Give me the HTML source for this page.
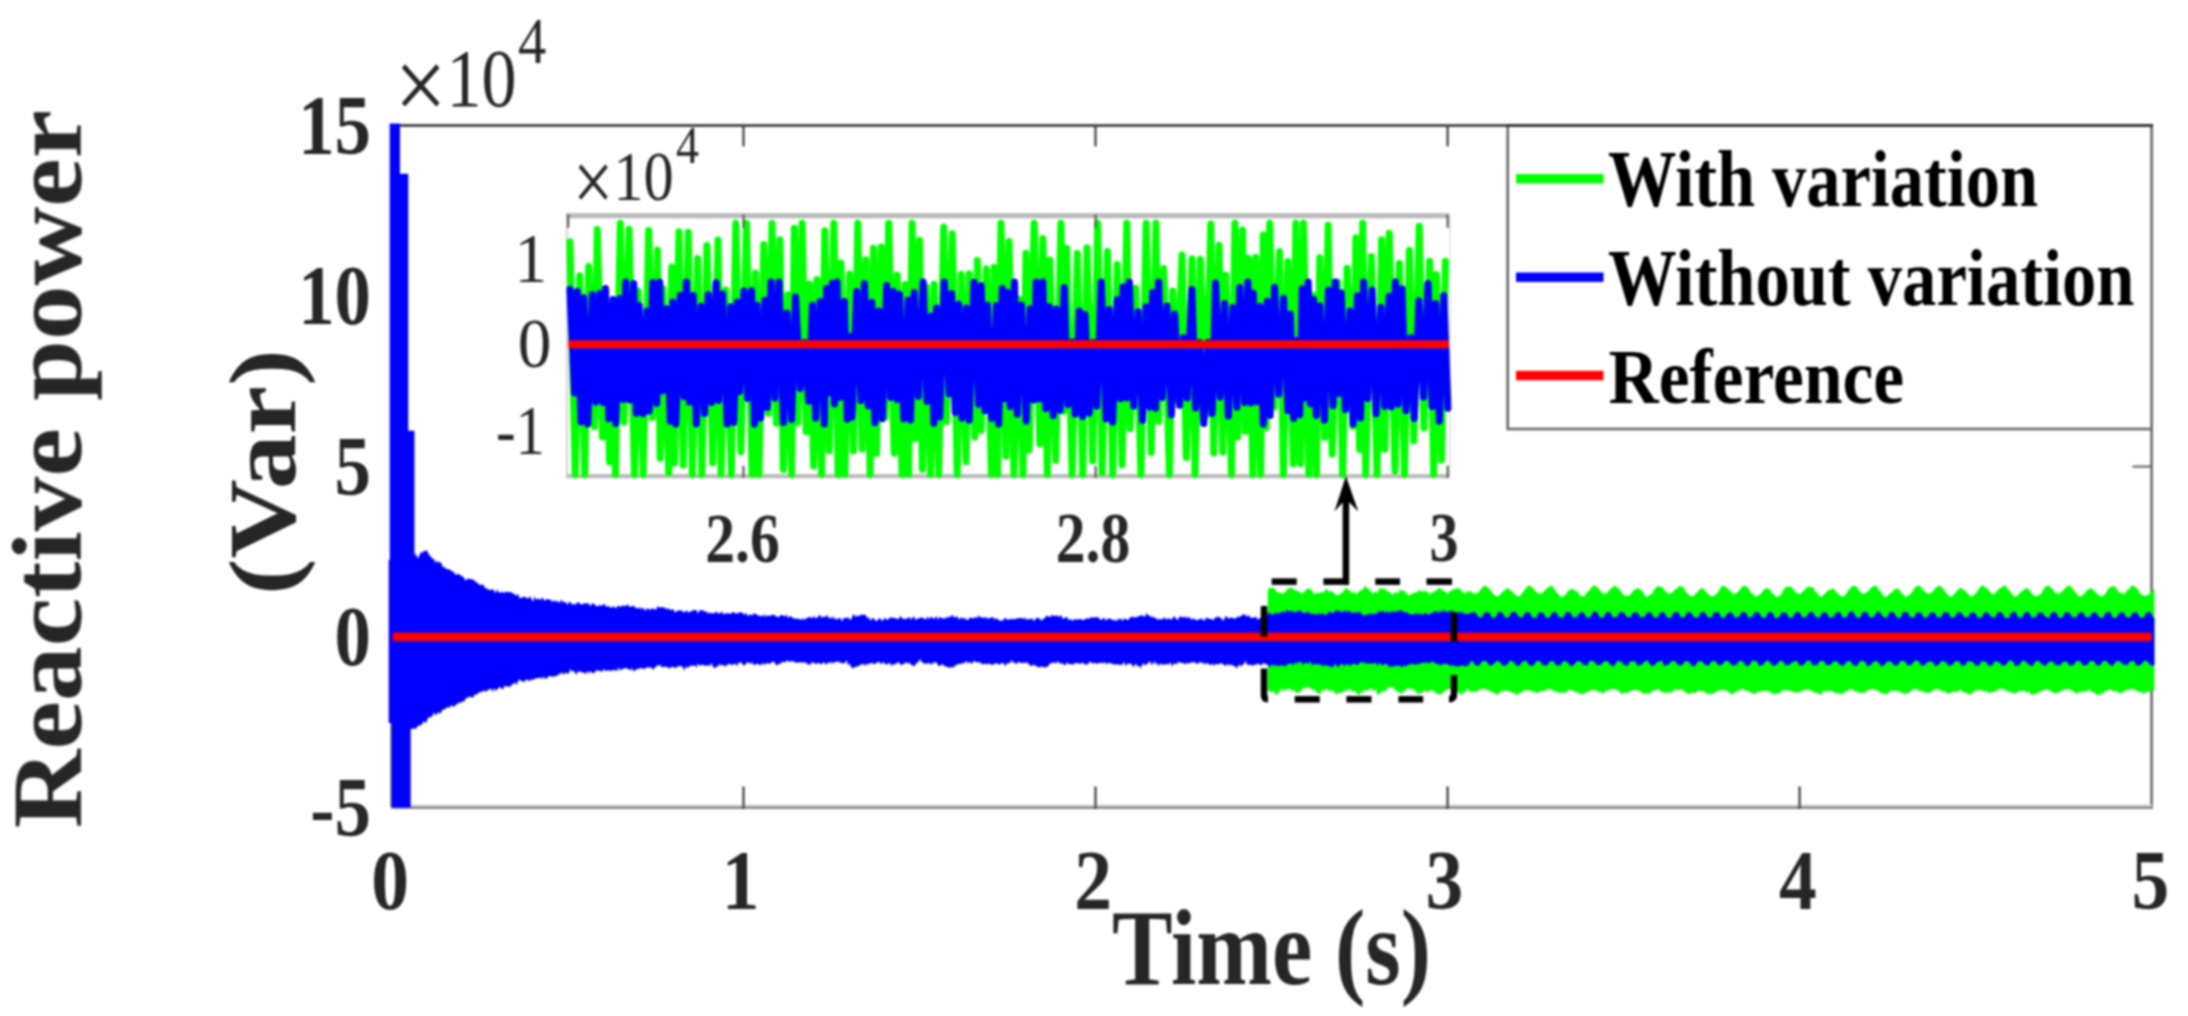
<!DOCTYPE html>
<html><head><meta charset="utf-8"><title>Reactive power</title><style>html,body{margin:0;padding:0;background:#fff}svg{display:block}</style></head><body>
<svg width="2188" height="1016" viewBox="0 0 2188 1016" font-family="'Liberation Serif', serif">
<rect width="2188" height="1016" fill="#fff"/>
<defs><filter id="soft" x="0" y="0" width="100%" height="100%" filterUnits="userSpaceOnUse" color-interpolation-filters="sRGB"><feGaussianBlur stdDeviation="1.0"/></filter></defs>
<g filter="url(#soft)">
<rect width="2188" height="1016" fill="#fff"/>
<g fill="none" stroke-width="2.6">
<line x1="391.7" y1="125.5" x2="2153.1000000000004" y2="125.5" stroke="#2a2a2a"/>
<line x1="2151.6" y1="125.5" x2="2151.6" y2="808.8" stroke="#666"/>
<line x1="391.7" y1="805.2" x2="2151.6" y2="805.2" stroke="#e4e4e4" stroke-width="2.4"/>
<line x1="391.7" y1="807.6" x2="2152.9" y2="807.6" stroke="#8a8a8a"/>
<line x1="391.7" y1="125.5" x2="391.7" y2="807.6" stroke="#666"/>
</g>
<g stroke="#444" stroke-width="2.3" stroke-linecap="round">
<line x1="743.5" y1="808" x2="743.5" y2="787.5"/>
<line x1="743.5" y1="126" x2="743.5" y2="145.5"/>
<line x1="1095.5" y1="808" x2="1095.5" y2="787.5"/>
<line x1="1095.5" y1="126" x2="1095.5" y2="145.5"/>
<line x1="1447.6" y1="808" x2="1447.6" y2="787.5"/>
<line x1="1447.6" y1="126" x2="1447.6" y2="145.5"/>
<line x1="1799.6" y1="808" x2="1799.6" y2="787.5"/>
<line x1="2151.6" y1="466.6" x2="2133.2" y2="466.6" stroke="#6c6c6c" stroke-width="2.1"/>
</g>
<polygon points="1267.8,590.5 1269.3,587.3 1270.8,588.4 1272.3,587.4 1273.8,588.1 1275.3,589.8 1276.8,591.4 1278.3,592.8 1279.8,591.9 1281.3,593.7 1282.8,593.6 1284.3,592.6 1285.8,591.7 1287.3,588.8 1288.8,588.0 1290.3,588.8 1291.8,586.7 1293.3,589.3 1294.8,589.7 1296.3,591.1 1297.8,590.6 1299.3,592.1 1300.8,592.9 1302.3,593.3 1303.8,592.4 1305.3,590.2 1306.8,589.2 1308.3,588.0 1309.8,589.6 1311.3,589.6 1312.8,591.7 1314.3,594.3 1315.8,593.5 1317.3,592.6 1318.8,593.4 1320.3,592.2 1321.8,591.6 1323.3,593.1 1324.8,590.9 1326.3,588.3 1327.8,590.5 1329.3,591.7 1330.8,590.8 1332.3,591.6 1333.8,593.1 1335.3,594.5 1336.8,595.0 1338.3,595.2 1339.8,594.2 1341.3,592.9 1342.8,591.9 1344.3,590.1 1345.8,587.3 1347.3,589.0 1348.8,590.2 1350.3,590.4 1351.8,592.9 1353.3,592.3 1354.8,592.1 1356.3,594.4 1357.8,592.7 1359.3,591.0 1360.8,590.5 1362.3,589.6 1363.8,588.3 1365.3,585.2 1366.8,587.8 1368.3,589.1 1369.8,589.8 1371.3,592.1 1372.8,593.9 1374.3,592.1 1375.8,590.9 1377.3,593.4 1378.8,589.6 1380.3,587.7 1381.8,588.7 1383.3,588.9 1384.8,588.2 1386.3,590.9 1387.8,590.8 1389.3,591.6 1390.8,593.7 1392.3,594.7 1393.8,592.9 1395.3,593.2 1396.8,591.6 1398.3,593.8 1399.8,589.1 1401.3,591.2 1402.8,589.9 1404.3,590.7 1405.8,592.8 1407.3,594.2 1408.8,595.5 1410.3,594.9 1411.8,593.7 1413.3,593.0 1414.8,593.0 1416.3,591.8 1417.8,591.7 1419.3,590.0 1420.8,590.7 1422.3,591.8 1423.8,591.2 1425.3,590.5 1426.8,591.8 1428.3,592.0 1429.8,595.3 1431.3,591.9 1432.8,593.1 1434.3,591.0 1435.8,591.1 1437.3,589.5 1438.8,588.1 1440.3,588.3 1441.8,589.5 1443.3,590.8 1444.8,591.1 1446.3,592.4 1447.8,594.4 1449.3,590.4 1450.8,591.6 1452.3,589.2 1453.8,589.2 1455.3,589.1 1456.8,587.9 1458.3,589.1 1459.8,587.4 1461.3,591.6 1462.8,591.0 1464.3,593.4 1465.8,593.4 1467.3,590.3 1468.8,591.7 1470.3,591.2 1471.8,592.1 1473.3,593.2 1474.8,593.8 1476.3,593.2 1477.8,593.2 1479.3,590.9 1480.8,589.3 1482.3,587.3 1483.8,586.2 1485.3,585.3 1486.8,586.9 1488.3,587.3 1489.8,589.6 1491.3,591.2 1492.8,593.0 1494.3,594.9 1495.8,595.9 1497.3,596.5 1498.8,595.7 1500.3,594.6 1501.8,592.3 1503.3,590.9 1504.8,590.6 1506.3,588.4 1507.8,588.0 1509.3,589.2 1510.8,591.0 1512.3,591.2 1513.8,593.6 1515.3,594.9 1516.8,595.4 1518.3,596.8 1519.8,595.8 1521.3,594.5 1522.8,592.1 1524.3,590.6 1525.8,588.1 1527.3,586.7 1528.8,585.5 1530.3,585.4 1531.8,587.6 1533.3,588.1 1534.8,590.2 1536.3,591.8 1537.8,592.9 1539.3,593.6 1540.8,594.1 1542.3,592.8 1543.8,591.4 1545.3,589.7 1546.8,588.6 1548.3,587.0 1549.8,586.2 1551.3,585.8 1552.8,586.4 1554.3,589.2 1555.8,591.3 1557.3,592.8 1558.8,595.0 1560.3,596.4 1561.8,596.9 1563.3,596.6 1564.8,594.8 1566.3,594.1 1567.8,591.0 1569.3,590.4 1570.8,589.1 1572.3,588.9 1573.8,589.8 1575.3,590.7 1576.8,591.0 1578.3,592.5 1579.8,595.4 1581.3,595.6 1582.8,596.5 1584.3,596.4 1585.8,593.9 1587.3,591.8 1588.8,590.9 1590.3,588.7 1591.8,586.9 1593.3,586.1 1594.8,585.5 1596.3,585.9 1597.8,587.9 1599.3,589.2 1600.8,590.7 1602.3,593.2 1603.8,593.7 1605.3,594.0 1606.8,592.6 1608.3,591.5 1609.8,589.6 1611.3,587.9 1612.8,587.0 1614.3,585.7 1615.8,586.2 1617.3,587.0 1618.8,589.3 1620.3,589.6 1621.8,592.9 1623.3,594.4 1624.8,595.8 1626.3,595.7 1627.8,596.0 1629.3,595.6 1630.8,593.7 1632.3,592.0 1633.8,590.1 1635.3,589.6 1636.8,588.5 1638.3,587.7 1639.8,589.4 1641.3,590.3 1642.8,591.4 1644.3,594.4 1645.8,596.6 1647.3,596.5 1648.8,595.6 1650.3,594.6 1651.8,593.9 1653.3,591.3 1654.8,589.1 1656.3,587.3 1657.8,586.3 1659.3,586.3 1660.8,586.7 1662.3,587.8 1663.8,588.8 1665.3,591.4 1666.8,592.3 1668.3,594.2 1669.8,593.2 1671.3,593.3 1672.8,592.1 1674.3,589.8 1675.8,589.5 1677.3,587.9 1678.8,585.9 1680.3,586.3 1681.8,586.8 1683.3,586.7 1684.8,590.0 1686.3,592.0 1687.8,594.1 1689.3,595.1 1690.8,596.3 1692.3,596.3 1693.8,596.1 1695.3,594.2 1696.8,592.3 1698.3,591.4 1699.8,589.0 1701.3,588.4 1702.8,587.7 1704.3,590.3 1705.8,591.4 1707.3,593.1 1708.8,594.7 1710.3,595.8 1711.8,596.5 1713.3,596.2 1714.8,595.2 1716.3,593.7 1717.8,592.4 1719.3,589.8 1720.8,587.6 1722.3,586.1 1723.8,585.6 1725.3,587.1 1726.8,587.7 1728.3,589.0 1729.8,590.6 1731.3,591.8 1732.8,593.5 1734.3,594.3 1735.8,593.3 1737.3,592.3 1738.8,590.7 1740.3,589.1 1741.8,586.6 1743.3,586.2 1744.8,585.5 1746.3,586.8 1747.8,587.3 1749.3,589.8 1750.8,592.4 1752.3,593.5 1753.8,595.0 1755.3,596.4 1756.8,596.4 1758.3,595.2 1759.8,594.6 1761.3,593.7 1762.8,590.8 1764.3,589.4 1765.8,588.1 1767.3,588.7 1768.8,588.6 1770.3,590.0 1771.8,593.0 1773.3,593.6 1774.8,596.1 1776.3,597.1 1777.8,596.5 1779.3,595.9 1780.8,595.0 1782.3,592.0 1783.8,589.6 1785.3,587.3 1786.8,586.6 1788.3,586.7 1789.8,586.6 1791.3,586.7 1792.8,588.2 1794.3,590.2 1795.8,592.3 1797.3,593.2 1798.8,594.0 1800.3,593.8 1801.8,592.5 1803.3,591.1 1804.8,589.5 1806.3,587.7 1807.8,586.7 1809.3,586.9 1810.8,586.5 1812.3,587.4 1813.8,588.3 1815.3,591.4 1816.8,592.3 1818.3,594.4 1819.8,596.6 1821.3,596.8 1822.8,595.9 1824.3,593.8 1825.8,592.8 1827.3,590.9 1828.8,590.0 1830.3,589.9 1831.8,588.6 1833.3,588.7 1834.8,589.7 1836.3,591.9 1837.8,593.6 1839.3,594.7 1840.8,596.3 1842.3,595.9 1843.8,596.4 1845.3,595.0 1846.8,593.0 1848.3,590.1 1849.8,588.6 1851.3,586.7 1852.8,585.8 1854.3,585.9 1855.8,586.2 1857.3,587.6 1858.8,590.5 1860.3,591.7 1861.8,593.2 1863.3,594.3 1864.8,592.9 1866.3,592.5 1867.8,591.6 1869.3,589.9 1870.8,587.8 1872.3,587.2 1873.8,586.1 1875.3,585.5 1876.8,586.6 1878.3,589.1 1879.8,591.0 1881.3,592.0 1882.8,595.4 1884.3,596.3 1885.8,597.1 1887.3,595.9 1888.8,594.8 1890.3,592.8 1891.8,592.9 1893.3,589.9 1894.8,589.7 1896.3,588.2 1897.8,589.0 1899.3,589.2 1900.8,591.4 1902.3,593.9 1903.8,594.4 1905.3,596.6 1906.8,596.6 1908.3,595.5 1909.8,594.5 1911.3,592.7 1912.8,590.7 1914.3,588.4 1915.8,586.6 1917.3,586.0 1918.8,585.5 1920.3,586.0 1921.8,588.0 1923.3,590.2 1924.8,590.7 1926.3,592.9 1927.8,593.4 1929.3,593.3 1930.8,593.6 1932.3,591.5 1933.8,590.8 1935.3,587.9 1936.8,587.1 1938.3,585.9 1939.8,585.6 1941.3,587.1 1942.8,588.3 1944.3,590.6 1945.8,592.5 1947.3,593.9 1948.8,595.8 1950.3,596.5 1951.8,596.7 1953.3,594.8 1954.8,593.7 1956.3,591.1 1957.8,590.6 1959.3,588.5 1960.8,587.6 1962.3,588.7 1963.8,590.3 1965.3,590.5 1966.8,592.5 1968.3,594.3 1969.8,595.4 1971.3,596.7 1972.8,595.8 1974.3,594.7 1975.8,593.6 1977.3,590.8 1978.8,589.3 1980.3,586.9 1981.8,585.6 1983.3,585.0 1984.8,587.4 1986.3,587.5 1987.8,589.5 1989.3,591.1 1990.8,592.7 1992.3,593.7 1993.8,594.8 1995.3,592.8 1996.8,591.3 1998.3,589.9 1999.8,588.0 2001.3,587.5 2002.8,586.6 2004.3,585.5 2005.8,585.9 2007.3,587.8 2008.8,590.6 2010.3,590.7 2011.8,594.3 2013.3,595.1 2014.8,596.9 2016.3,595.8 2017.8,595.4 2019.3,593.3 2020.8,591.8 2022.3,591.3 2023.8,589.7 2025.3,588.4 2026.8,588.2 2028.3,588.5 2029.8,590.7 2031.3,592.7 2032.8,594.4 2034.3,595.7 2035.8,595.9 2037.3,596.3 2038.8,595.3 2040.3,594.3 2041.8,592.6 2043.3,589.4 2044.8,587.3 2046.3,586.4 2047.8,585.6 2049.3,585.9 2050.8,587.4 2052.3,588.5 2053.8,591.1 2055.3,592.3 2056.8,593.6 2058.3,593.8 2059.8,593.1 2061.3,591.9 2062.8,590.7 2064.3,588.7 2065.8,587.5 2067.3,586.3 2068.8,585.2 2070.3,586.4 2071.8,587.0 2073.3,589.2 2074.8,591.5 2076.3,592.7 2077.8,595.4 2079.3,596.4 2080.8,596.3 2082.3,595.5 2083.8,594.2 2085.3,592.2 2086.8,590.8 2088.3,589.2 2089.8,588.7 2091.3,588.0 2092.8,589.4 2094.3,590.7 2095.8,592.2 2097.3,593.8 2098.8,595.8 2100.3,595.5 2101.8,596.6 2103.3,595.7 2104.8,594.2 2106.3,592.3 2107.8,589.6 2109.3,587.8 2110.8,586.9 2112.3,586.2 2113.8,586.3 2115.3,586.4 2116.8,588.9 2118.3,591.0 2119.8,592.6 2121.3,593.5 2122.8,593.1 2124.3,594.1 2125.8,592.6 2127.3,589.9 2128.8,589.6 2130.3,587.0 2131.8,585.8 2133.3,585.6 2134.8,586.9 2136.3,587.2 2137.8,589.2 2139.3,592.1 2140.8,594.1 2142.3,595.0 2143.8,596.0 2145.3,595.8 2146.8,595.6 2148.3,594.9 2149.8,593.2 2151.3,591.3 2152.8,590.2 2154.3,588.4 2154.3,690.6 2152.8,690.4 2151.3,690.1 2149.8,690.9 2148.3,692.0 2146.8,692.3 2145.3,691.5 2143.8,694.5 2142.3,692.5 2140.8,691.7 2139.3,692.2 2137.8,691.1 2136.3,691.0 2134.8,689.9 2133.3,689.1 2131.8,688.4 2130.3,689.2 2128.8,690.0 2127.3,689.7 2125.8,690.0 2124.3,691.3 2122.8,692.1 2121.3,693.4 2119.8,693.0 2118.3,692.2 2116.8,691.7 2115.3,690.5 2113.8,692.1 2112.3,690.1 2110.8,689.8 2109.3,689.3 2107.8,690.5 2106.3,690.4 2104.8,691.6 2103.3,693.3 2101.8,693.8 2100.3,694.1 2098.8,695.0 2097.3,695.6 2095.8,694.0 2094.3,692.6 2092.8,692.0 2091.3,692.3 2089.8,690.1 2088.3,689.5 2086.8,691.1 2085.3,691.8 2083.8,691.7 2082.3,691.0 2080.8,692.4 2079.3,691.7 2077.8,692.8 2076.3,693.9 2074.8,692.0 2073.3,691.8 2071.8,690.3 2070.3,689.7 2068.8,688.9 2067.3,689.1 2065.8,690.1 2064.3,688.8 2062.8,690.7 2061.3,690.7 2059.8,691.6 2058.3,692.4 2056.8,692.9 2055.3,693.1 2053.8,692.7 2052.3,692.6 2050.8,691.1 2049.3,689.9 2047.8,690.0 2046.3,689.0 2044.8,689.6 2043.3,690.0 2041.8,691.5 2040.3,691.5 2038.8,692.6 2037.3,693.1 2035.8,693.8 2034.3,694.3 2032.8,694.5 2031.3,695.2 2029.8,692.9 2028.3,690.9 2026.8,692.8 2025.3,692.1 2023.8,690.0 2022.3,690.8 2020.8,691.5 2019.3,691.1 2017.8,691.6 2016.3,693.0 2014.8,693.4 2013.3,692.9 2011.8,693.2 2010.3,691.1 2008.8,692.7 2007.3,690.8 2005.8,690.4 2004.3,689.6 2002.8,689.0 2001.3,688.9 1999.8,688.7 1998.3,688.4 1996.8,691.8 1995.3,690.5 1993.8,692.1 1992.3,692.0 1990.8,692.2 1989.3,693.3 1987.8,692.6 1986.3,690.6 1984.8,691.5 1983.3,691.5 1981.8,690.2 1980.3,689.4 1978.8,690.7 1977.3,689.3 1975.8,691.2 1974.3,691.5 1972.8,692.5 1971.3,693.6 1969.8,694.7 1968.3,694.6 1966.8,693.1 1965.3,692.3 1963.8,692.8 1962.3,691.1 1960.8,690.2 1959.3,689.7 1957.8,691.3 1956.3,692.6 1954.8,691.5 1953.3,691.1 1951.8,692.6 1950.3,692.7 1948.8,693.1 1947.3,693.9 1945.8,692.6 1944.3,690.6 1942.8,692.4 1941.3,690.3 1939.8,690.2 1938.3,689.0 1936.8,689.5 1935.3,688.7 1933.8,690.0 1932.3,690.8 1930.8,692.7 1929.3,692.5 1927.8,692.5 1926.3,692.5 1924.8,692.8 1923.3,691.2 1921.8,692.0 1920.3,690.1 1918.8,691.4 1917.3,689.2 1915.8,688.4 1914.3,689.4 1912.8,689.5 1911.3,690.5 1909.8,692.6 1908.3,693.0 1906.8,693.3 1905.3,693.6 1903.8,694.3 1902.3,692.1 1900.8,692.9 1899.3,691.0 1897.8,691.3 1896.3,690.9 1894.8,690.6 1893.3,690.8 1891.8,690.5 1890.3,690.8 1888.8,692.6 1887.3,693.9 1885.8,693.4 1884.3,694.8 1882.8,693.0 1881.3,693.2 1879.8,692.4 1878.3,690.8 1876.8,690.8 1875.3,689.5 1873.8,690.0 1872.3,688.5 1870.8,689.3 1869.3,689.7 1867.8,690.3 1866.3,691.0 1864.8,692.7 1863.3,692.9 1861.8,692.7 1860.3,692.6 1858.8,693.0 1857.3,691.5 1855.8,691.7 1854.3,690.7 1852.8,689.9 1851.3,688.7 1849.8,689.4 1848.3,689.9 1846.8,691.6 1845.3,691.6 1843.8,692.9 1842.3,694.4 1840.8,693.3 1839.3,694.5 1837.8,692.2 1836.3,693.9 1834.8,692.3 1833.3,692.1 1831.8,691.3 1830.3,690.5 1828.8,691.0 1827.3,691.3 1825.8,691.7 1824.3,691.2 1822.8,691.1 1821.3,694.2 1819.8,694.7 1818.3,693.1 1816.8,693.6 1815.3,691.8 1813.8,693.1 1812.3,691.1 1810.8,690.7 1809.3,689.9 1807.8,689.2 1806.3,690.0 1804.8,689.4 1803.3,689.9 1801.8,691.1 1800.3,691.9 1798.8,692.1 1797.3,692.3 1795.8,692.6 1794.3,692.6 1792.8,691.3 1791.3,691.6 1789.8,690.7 1788.3,689.7 1786.8,690.6 1785.3,690.6 1783.8,690.2 1782.3,690.3 1780.8,692.0 1779.3,693.8 1777.8,692.8 1776.3,693.6 1774.8,694.9 1773.3,692.9 1771.8,694.1 1770.3,692.4 1768.8,691.3 1767.3,690.8 1765.8,691.4 1764.3,690.5 1762.8,690.7 1761.3,691.6 1759.8,692.3 1758.3,690.9 1756.8,692.6 1755.3,693.7 1753.8,693.4 1752.3,693.6 1750.8,692.7 1749.3,691.2 1747.8,691.0 1746.3,691.0 1744.8,689.4 1743.3,689.8 1741.8,688.2 1740.3,690.6 1738.8,690.3 1737.3,691.0 1735.8,692.2 1734.3,692.2 1732.8,694.1 1731.3,694.3 1729.8,693.2 1728.3,691.1 1726.8,691.4 1725.3,689.8 1723.8,690.5 1722.3,689.7 1720.8,689.2 1719.3,690.9 1717.8,691.0 1716.3,691.1 1714.8,692.6 1713.3,693.5 1711.8,693.8 1710.3,694.3 1708.8,693.6 1707.3,693.9 1705.8,693.0 1704.3,691.9 1702.8,690.6 1701.3,692.0 1699.8,690.6 1698.3,690.8 1696.8,691.5 1695.3,693.0 1693.8,692.9 1692.3,692.1 1690.8,693.8 1689.3,693.6 1687.8,694.1 1686.3,692.7 1684.8,691.9 1683.3,690.8 1681.8,688.9 1680.3,689.2 1678.8,690.0 1677.3,689.4 1675.8,689.4 1674.3,689.7 1672.8,691.3 1671.3,693.3 1669.8,692.1 1668.3,692.2 1666.8,693.4 1665.3,692.2 1663.8,692.8 1662.3,691.5 1660.8,691.7 1659.3,689.6 1657.8,689.0 1656.3,689.5 1654.8,690.7 1653.3,690.2 1651.8,691.6 1650.3,692.9 1648.8,693.9 1647.3,693.6 1645.8,692.9 1644.3,693.9 1642.8,693.6 1641.3,692.6 1639.8,691.1 1638.3,689.9 1636.8,690.4 1635.3,689.8 1633.8,689.8 1632.3,690.8 1630.8,691.1 1629.3,691.3 1627.8,693.3 1626.3,692.6 1624.8,693.1 1623.3,692.5 1621.8,694.6 1620.3,692.7 1618.8,691.1 1617.3,689.8 1615.8,690.0 1614.3,688.7 1612.8,689.2 1611.3,688.9 1609.8,689.8 1608.3,690.4 1606.8,690.2 1605.3,691.3 1603.8,692.6 1602.3,693.9 1600.8,691.6 1599.3,692.3 1597.8,691.3 1596.3,690.7 1594.8,689.2 1593.3,690.2 1591.8,690.1 1590.3,690.4 1588.8,691.6 1587.3,691.5 1585.8,692.8 1584.3,693.3 1582.8,694.0 1581.3,694.0 1579.8,694.5 1578.3,692.3 1576.8,692.6 1575.3,692.5 1573.8,690.6 1572.3,690.2 1570.8,690.0 1569.3,689.4 1567.8,690.6 1566.3,692.4 1564.8,692.2 1563.3,692.9 1561.8,692.7 1560.3,692.3 1558.8,693.0 1557.3,691.4 1555.8,691.6 1554.3,691.7 1552.8,690.0 1551.3,689.5 1549.8,689.8 1548.3,688.0 1546.8,690.3 1545.3,690.2 1543.8,691.0 1542.3,690.9 1540.8,691.5 1539.3,691.1 1537.8,693.8 1536.3,692.3 1534.8,692.3 1533.3,691.2 1531.8,692.0 1530.3,690.4 1528.8,690.1 1527.3,690.5 1525.8,689.9 1524.3,689.8 1522.8,691.8 1521.3,692.6 1519.8,692.9 1518.3,693.6 1516.8,695.7 1515.3,693.8 1513.8,693.0 1512.3,693.1 1510.8,692.1 1509.3,691.7 1507.8,690.8 1506.3,690.5 1504.8,690.4 1503.3,691.7 1501.8,690.7 1500.3,692.3 1498.8,693.4 1497.3,694.4 1495.8,694.6 1494.3,693.3 1492.8,691.8 1491.3,691.9 1489.8,691.1 1488.3,690.6 1486.8,689.7 1485.3,689.2 1483.8,689.3 1482.3,688.2 1480.8,689.9 1479.3,688.9 1477.8,691.2 1476.3,691.5 1474.8,691.6 1473.3,692.1 1471.8,691.4 1470.3,692.3 1468.8,690.4 1467.3,687.9 1465.8,692.3 1464.3,691.3 1462.8,693.5 1461.3,695.0 1459.8,694.0 1458.3,691.8 1456.8,691.2 1455.3,689.7 1453.8,690.9 1452.3,689.8 1450.8,688.4 1449.3,689.5 1447.8,688.6 1446.3,690.6 1444.8,690.3 1443.3,692.7 1441.8,693.2 1440.3,694.8 1438.8,694.3 1437.3,693.7 1435.8,693.4 1434.3,691.1 1432.8,691.4 1431.3,689.1 1429.8,690.2 1428.3,692.5 1426.8,692.1 1425.3,690.0 1423.8,691.0 1422.3,692.1 1420.8,693.8 1419.3,692.7 1417.8,694.9 1416.3,692.5 1414.8,689.8 1413.3,689.9 1411.8,687.9 1410.3,689.7 1408.8,688.1 1407.3,688.0 1405.8,690.8 1404.3,690.3 1402.8,692.7 1401.3,694.1 1399.8,692.2 1398.3,692.1 1396.8,690.7 1395.3,691.0 1393.8,688.0 1392.3,686.5 1390.8,688.0 1389.3,686.5 1387.8,687.9 1386.3,690.2 1384.8,691.1 1383.3,692.0 1381.8,690.4 1380.3,694.1 1378.8,693.2 1377.3,695.5 1375.8,689.1 1374.3,690.3 1372.8,690.8 1371.3,688.0 1369.8,689.0 1368.3,689.8 1366.8,690.4 1365.3,690.8 1363.8,689.6 1362.3,694.8 1360.8,690.5 1359.3,695.3 1357.8,694.6 1356.3,693.2 1354.8,690.5 1353.3,691.3 1351.8,691.5 1350.3,689.9 1348.8,687.9 1347.3,690.4 1345.8,690.9 1344.3,690.3 1342.8,692.6 1341.3,693.5 1339.8,692.6 1338.3,692.6 1336.8,694.4 1335.3,693.9 1333.8,691.2 1332.3,690.3 1330.8,690.2 1329.3,691.7 1327.8,689.0 1326.3,689.1 1324.8,690.8 1323.3,689.8 1321.8,689.8 1320.3,694.5 1318.8,693.3 1317.3,693.3 1315.8,691.0 1314.3,690.6 1312.8,689.1 1311.3,689.5 1309.8,687.6 1308.3,686.9 1306.8,687.3 1305.3,688.3 1303.8,687.4 1302.3,688.9 1300.8,691.1 1299.3,692.0 1297.8,693.0 1296.3,692.5 1294.8,691.6 1293.3,689.8 1291.8,691.7 1290.3,688.2 1288.8,689.1 1287.3,689.4 1285.8,688.8 1284.3,691.5 1282.8,690.3 1281.3,688.6 1279.8,691.2 1278.3,692.4 1276.8,694.8 1275.3,694.5 1273.8,691.0 1272.3,692.1 1270.8,691.3 1269.3,691.8 1267.8,689.7" fill="#00ff00"/>
<polygon points="389.7,123.6 400.0,123.6 400.0,173.8 408.3,173.8 408.3,430.7 414.5,430.7 414.5,556.4 416.0,553.0 417.5,558.6 419.0,556.5 420.5,552.3 422.0,552.8 423.5,551.4 425.0,550.8 426.5,550.3 428.0,552.6 429.5,555.5 431.0,556.5 432.5,558.9 434.0,558.8 435.5,562.9 437.0,560.5 438.5,562.9 440.0,561.6 441.5,563.6 443.0,567.9 444.5,566.3 446.0,569.1 447.5,569.2 449.0,568.9 450.5,570.5 452.0,571.1 453.5,571.9 455.0,574.1 456.5,574.8 458.0,574.0 459.5,574.2 461.0,576.1 462.5,576.1 464.0,578.0 465.5,580.6 467.0,579.0 468.5,578.6 470.0,579.2 471.5,579.1 473.0,579.8 474.5,580.5 476.0,582.0 477.5,582.7 479.0,584.9 480.5,584.2 482.0,585.2 483.5,584.6 485.0,588.6 486.5,587.8 488.0,589.9 489.5,589.2 491.0,590.5 492.5,588.8 494.0,590.4 495.5,593.2 497.0,588.9 498.5,592.1 500.0,592.9 501.5,591.5 503.0,592.2 504.5,593.1 506.0,591.0 507.5,592.7 509.0,591.5 510.5,592.2 512.0,592.8 513.5,593.8 515.0,594.7 516.5,595.5 518.0,593.7 519.5,598.3 521.0,597.8 522.5,597.6 524.0,596.6 525.5,597.2 527.0,598.3 528.5,598.3 530.0,595.9 531.5,599.0 533.0,601.8 534.5,596.1 536.0,599.7 537.5,599.1 539.0,598.5 540.5,600.4 542.0,597.3 543.5,599.1 545.0,600.9 546.5,599.0 548.0,599.0 549.5,600.0 551.0,599.6 552.5,602.4 554.0,599.7 555.5,602.3 557.0,600.0 558.5,602.7 560.0,602.1 561.5,599.3 563.0,602.7 564.5,601.6 566.0,602.5 567.5,605.0 569.0,601.8 570.5,601.9 572.0,605.0 573.5,603.3 575.0,605.0 576.5,603.5 578.0,602.0 579.5,603.0 581.0,604.6 582.5,604.3 584.0,603.2 585.5,603.4 587.0,603.4 588.5,603.0 590.0,606.3 591.5,604.2 593.0,603.1 594.5,604.2 596.0,606.0 597.5,606.2 599.0,605.5 600.5,605.0 602.0,606.1 603.5,604.1 605.0,604.6 606.5,607.3 608.0,605.7 609.5,606.7 611.0,607.7 612.5,606.9 614.0,606.1 615.5,608.6 617.0,606.7 618.5,605.4 620.0,606.7 621.5,606.4 623.0,604.9 624.5,606.1 626.0,606.0 627.5,604.0 629.0,606.4 630.5,606.5 632.0,606.6 633.5,605.4 635.0,607.3 636.5,608.0 638.0,608.4 639.5,607.1 641.0,609.5 642.5,607.4 644.0,608.7 645.5,610.7 647.0,608.2 648.5,608.4 650.0,610.3 651.5,608.4 653.0,608.5 654.5,609.0 656.0,610.0 657.5,605.9 659.0,607.5 660.5,607.3 662.0,607.2 663.5,607.6 665.0,607.7 666.5,609.3 668.0,608.1 669.5,609.5 671.0,610.1 672.5,609.0 674.0,610.4 675.5,612.5 677.0,611.1 678.5,610.1 680.0,611.0 681.5,610.1 683.0,611.7 684.5,612.5 686.0,610.4 687.5,611.2 689.0,612.7 690.5,610.7 692.0,611.4 693.5,609.8 695.0,610.0 696.5,610.3 698.0,613.5 699.5,610.3 701.0,610.2 702.5,610.2 704.0,610.8 705.5,611.9 707.0,611.6 708.5,614.0 710.0,612.1 711.5,613.8 713.0,612.7 714.5,613.4 716.0,611.2 717.5,613.0 719.0,613.2 720.5,613.2 722.0,611.0 723.5,614.7 725.0,613.3 726.5,613.2 728.0,613.4 729.5,613.3 731.0,614.0 732.5,611.9 734.0,612.2 735.5,613.6 737.0,613.4 738.5,612.7 740.0,612.5 741.5,612.3 743.0,613.3 744.5,615.0 746.0,612.5 747.5,615.8 749.0,615.3 750.5,614.0 752.0,615.8 753.5,613.4 755.0,613.4 756.5,614.2 758.0,615.5 759.5,615.8 761.0,615.7 762.5,616.6 764.0,614.0 765.5,617.2 767.0,614.9 768.5,615.7 770.0,616.0 771.5,615.0 773.0,614.7 774.5,615.1 776.0,616.2 777.5,616.9 779.0,616.9 780.5,615.0 782.0,615.3 783.5,615.2 785.0,616.9 786.5,614.1 788.0,618.2 789.5,616.3 791.0,616.2 792.5,617.7 794.0,618.8 795.5,618.2 797.0,619.2 798.5,618.2 800.0,619.6 801.5,619.7 803.0,618.1 804.5,619.9 806.0,618.3 807.5,618.1 809.0,616.7 810.5,617.3 812.0,618.5 813.5,615.8 815.0,618.0 816.5,617.5 818.0,617.4 819.5,614.3 821.0,616.8 822.5,617.8 824.0,616.2 825.5,617.3 827.0,614.5 828.5,618.4 830.0,617.0 831.5,619.0 833.0,616.0 834.5,619.2 836.0,618.3 837.5,619.7 839.0,617.7 840.5,618.2 842.0,621.6 843.5,617.9 845.0,618.0 846.5,618.3 848.0,617.1 849.5,619.4 851.0,619.5 852.5,615.9 854.0,613.9 855.5,616.7 857.0,616.1 858.5,615.5 860.0,616.0 861.5,613.9 863.0,615.3 864.5,614.6 866.0,615.2 867.5,618.6 869.0,617.1 870.5,621.0 872.0,618.6 873.5,618.0 875.0,619.9 876.5,621.3 878.0,619.8 879.5,617.8 881.0,619.7 882.5,620.9 884.0,618.6 885.5,618.2 887.0,620.2 888.5,618.9 890.0,617.3 891.5,617.9 893.0,617.3 894.5,618.4 896.0,618.0 897.5,619.2 899.0,618.6 900.5,615.8 902.0,618.2 903.5,618.9 905.0,618.4 906.5,619.3 908.0,617.5 909.5,617.2 911.0,619.7 912.5,617.5 914.0,616.3 915.5,620.3 917.0,618.3 918.5,618.9 920.0,617.6 921.5,617.7 923.0,617.8 924.5,618.7 926.0,619.4 927.5,616.1 929.0,619.6 930.5,617.0 932.0,617.0 933.5,618.9 935.0,617.9 936.5,616.0 938.0,619.9 939.5,616.6 941.0,617.9 942.5,617.8 944.0,619.2 945.5,616.9 947.0,618.4 948.5,616.0 950.0,617.8 951.5,615.2 953.0,615.4 954.5,618.1 956.0,616.4 957.5,616.6 959.0,619.8 960.5,618.1 962.0,617.2 963.5,619.4 965.0,617.3 966.5,620.1 968.0,620.1 969.5,617.8 971.0,617.6 972.5,618.4 974.0,618.0 975.5,616.7 977.0,618.5 978.5,615.3 980.0,617.2 981.5,617.2 983.0,617.5 984.5,618.3 986.0,616.6 987.5,618.9 989.0,618.2 990.5,617.8 992.0,617.2 993.5,617.5 995.0,619.5 996.5,618.1 998.0,619.4 999.5,620.6 1001.0,620.5 1002.5,621.1 1004.0,618.7 1005.5,617.7 1007.0,620.0 1008.5,619.0 1010.0,619.8 1011.5,618.3 1013.0,619.5 1014.5,618.9 1016.0,618.7 1017.5,618.3 1019.0,618.2 1020.5,618.0 1022.0,618.0 1023.5,619.1 1025.0,617.4 1026.5,620.3 1028.0,618.2 1029.5,619.7 1031.0,618.6 1032.5,618.6 1034.0,621.5 1035.5,618.8 1037.0,617.7 1038.5,618.3 1040.0,618.6 1041.5,621.3 1043.0,618.4 1044.5,618.7 1046.0,615.6 1047.5,616.5 1049.0,616.3 1050.5,617.3 1052.0,614.2 1053.5,616.0 1055.0,616.0 1056.5,614.9 1058.0,616.6 1059.5,616.7 1061.0,614.6 1062.5,618.4 1064.0,618.5 1065.5,617.5 1067.0,616.7 1068.5,620.2 1070.0,619.0 1071.5,620.1 1073.0,620.7 1074.5,618.5 1076.0,620.2 1077.5,619.0 1079.0,619.2 1080.5,619.2 1082.0,619.2 1083.5,620.4 1085.0,619.1 1086.5,618.6 1088.0,618.2 1089.5,618.8 1091.0,617.1 1092.5,617.4 1094.0,617.8 1095.5,617.1 1097.0,617.6 1098.5,617.0 1100.0,620.1 1101.5,619.4 1103.0,618.4 1104.5,618.0 1106.0,620.8 1107.5,618.8 1109.0,618.5 1110.5,619.1 1112.0,619.3 1113.5,620.8 1115.0,619.2 1116.5,621.8 1118.0,618.2 1119.5,620.1 1121.0,618.0 1122.5,621.3 1124.0,618.6 1125.5,618.8 1127.0,619.8 1128.5,620.0 1130.0,616.9 1131.5,617.6 1133.0,616.2 1134.5,617.8 1136.0,617.3 1137.5,616.7 1139.0,615.9 1140.5,615.8 1142.0,614.9 1143.5,616.0 1145.0,616.9 1146.5,612.8 1148.0,615.3 1149.5,615.5 1151.0,617.3 1152.5,616.3 1154.0,617.9 1155.5,617.3 1157.0,619.8 1158.5,619.2 1160.0,619.0 1161.5,619.6 1163.0,618.7 1164.5,617.0 1166.0,619.4 1167.5,618.9 1169.0,618.2 1170.5,619.3 1172.0,619.5 1173.5,616.6 1175.0,616.8 1176.5,619.6 1178.0,619.4 1179.5,616.8 1181.0,616.4 1182.5,617.2 1184.0,617.5 1185.5,616.3 1187.0,618.5 1188.5,617.1 1190.0,617.4 1191.5,620.1 1193.0,618.3 1194.5,619.1 1196.0,620.0 1197.5,620.3 1199.0,618.9 1200.5,619.3 1202.0,618.1 1203.5,621.1 1205.0,619.6 1206.5,617.3 1208.0,618.4 1209.5,619.1 1211.0,618.6 1212.5,620.1 1214.0,619.4 1215.5,617.1 1217.0,617.6 1218.5,616.2 1220.0,618.1 1221.5,618.1 1223.0,621.3 1224.5,618.3 1226.0,615.8 1227.5,617.7 1229.0,618.8 1230.5,617.2 1232.0,617.7 1233.5,618.2 1235.0,618.7 1236.5,617.6 1238.0,616.2 1239.5,617.6 1241.0,615.5 1242.5,615.2 1244.0,614.1 1245.5,615.0 1247.0,617.1 1248.5,614.7 1250.0,617.0 1251.5,618.2 1253.0,617.0 1254.5,617.9 1256.0,616.3 1257.5,619.2 1259.0,619.1 1260.5,618.1 1262.0,615.9 1263.5,616.9 1265.0,619.5 1266.5,620.5 1268.0,611.2 1269.5,613.4 1271.0,613.9 1272.5,614.8 1274.0,613.4 1275.5,613.3 1277.0,612.7 1278.5,613.8 1280.0,612.4 1281.5,611.9 1283.0,611.5 1284.5,612.6 1286.0,611.2 1287.5,609.8 1289.0,611.9 1290.5,610.5 1292.0,611.4 1293.5,611.4 1295.0,612.2 1296.5,612.1 1298.0,610.6 1299.5,611.1 1301.0,610.2 1302.5,613.4 1304.0,612.4 1305.5,613.6 1307.0,612.2 1308.5,610.7 1310.0,614.6 1311.5,613.4 1313.0,613.7 1314.5,613.8 1316.0,614.5 1317.5,614.5 1319.0,612.4 1320.5,615.1 1322.0,613.4 1323.5,613.3 1325.0,615.4 1326.5,614.4 1328.0,612.9 1329.5,611.1 1331.0,612.9 1332.5,613.0 1334.0,612.1 1335.5,610.6 1337.0,610.8 1338.5,610.2 1340.0,611.5 1341.5,611.9 1343.0,612.1 1344.5,610.3 1346.0,611.3 1347.5,611.7 1349.0,610.7 1350.5,611.2 1352.0,613.7 1353.5,612.0 1355.0,613.0 1356.5,611.9 1358.0,612.7 1359.5,611.2 1361.0,613.2 1362.5,614.6 1364.0,615.7 1365.5,615.0 1367.0,614.6 1368.5,614.0 1370.0,613.4 1371.5,613.8 1373.0,614.5 1374.5,613.0 1376.0,614.5 1377.5,612.4 1379.0,611.3 1380.5,611.8 1382.0,610.9 1383.5,610.9 1385.0,613.1 1386.5,611.5 1388.0,611.7 1389.5,612.5 1391.0,612.4 1392.5,610.6 1394.0,612.3 1395.5,611.4 1397.0,611.1 1398.5,611.6 1400.0,609.9 1401.5,610.7 1403.0,611.6 1404.5,612.6 1406.0,611.9 1407.5,612.4 1409.0,613.8 1410.5,614.5 1412.0,614.1 1413.5,614.8 1415.0,613.3 1416.5,613.6 1418.0,614.3 1419.5,613.7 1421.0,613.5 1422.5,615.6 1424.0,613.6 1425.5,612.7 1427.0,613.9 1428.5,615.1 1430.0,613.1 1431.5,613.9 1433.0,612.0 1434.5,611.6 1436.0,611.2 1437.5,611.5 1439.0,613.3 1440.5,610.1 1442.0,612.8 1443.5,610.0 1445.0,610.8 1446.5,611.9 1448.0,611.7 1449.5,611.5 1451.0,609.7 1452.5,612.0 1454.0,610.8 1455.5,614.7 1457.0,612.2 1458.5,612.8 1460.0,611.8 1461.5,612.7 1463.0,612.1 1464.5,614.6 1466.0,613.5 1467.5,614.5 1469.0,613.3 1470.5,612.8 1472.0,612.8 1473.5,612.3 1475.0,612.1 1476.5,613.7 1478.0,616.6 1479.5,617.0 1481.0,617.6 1482.5,616.9 1484.0,613.0 1485.5,612.0 1487.0,612.7 1488.5,612.1 1490.0,613.8 1491.5,617.6 1493.0,617.6 1494.5,617.5 1496.0,616.8 1497.5,612.9 1499.0,611.8 1500.5,612.0 1502.0,612.2 1503.5,614.2 1505.0,617.4 1506.5,617.5 1508.0,617.5 1509.5,616.6 1511.0,612.6 1512.5,612.0 1514.0,611.8 1515.5,612.0 1517.0,613.9 1518.5,616.7 1520.0,617.1 1521.5,617.4 1523.0,617.0 1524.5,613.2 1526.0,612.4 1527.5,612.1 1529.0,611.9 1530.5,614.1 1532.0,617.8 1533.5,617.2 1535.0,617.9 1536.5,617.5 1538.0,613.9 1539.5,611.9 1541.0,612.8 1542.5,612.3 1544.0,613.9 1545.5,617.1 1547.0,617.7 1548.5,617.5 1550.0,616.9 1551.5,613.8 1553.0,611.9 1554.5,611.8 1556.0,612.5 1557.5,614.3 1559.0,617.6 1560.5,617.1 1562.0,617.8 1563.5,617.2 1565.0,614.0 1566.5,611.8 1568.0,612.2 1569.5,612.1 1571.0,613.5 1572.5,616.9 1574.0,617.8 1575.5,617.3 1577.0,616.7 1578.5,613.7 1580.0,612.5 1581.5,612.5 1583.0,612.0 1584.5,614.0 1586.0,617.5 1587.5,617.2 1589.0,617.2 1590.5,617.3 1592.0,613.9 1593.5,611.8 1595.0,611.2 1596.5,611.7 1598.0,613.7 1599.5,617.1 1601.0,617.7 1602.5,617.4 1604.0,616.7 1605.5,613.4 1607.0,611.9 1608.5,612.1 1610.0,612.0 1611.5,615.0 1613.0,617.5 1614.5,617.2 1616.0,617.1 1617.5,616.8 1619.0,612.8 1620.5,611.9 1622.0,611.9 1623.5,612.5 1625.0,613.9 1626.5,616.9 1628.0,617.0 1629.5,617.0 1631.0,617.0 1632.5,613.3 1634.0,612.6 1635.5,611.9 1637.0,612.6 1638.5,614.1 1640.0,617.2 1641.5,616.8 1643.0,617.0 1644.5,617.2 1646.0,613.9 1647.5,612.3 1649.0,612.4 1650.5,612.1 1652.0,613.9 1653.5,616.9 1655.0,617.8 1656.5,617.6 1658.0,616.9 1659.5,613.3 1661.0,612.4 1662.5,612.2 1664.0,611.9 1665.5,614.6 1667.0,617.3 1668.5,617.5 1670.0,618.0 1671.5,617.3 1673.0,613.4 1674.5,612.4 1676.0,611.8 1677.5,612.0 1679.0,613.2 1680.5,617.6 1682.0,616.8 1683.5,617.7 1685.0,616.7 1686.5,613.1 1688.0,612.1 1689.5,612.2 1691.0,612.5 1692.5,614.7 1694.0,617.3 1695.5,617.8 1697.0,617.2 1698.5,617.2 1700.0,613.4 1701.5,612.0 1703.0,612.1 1704.5,612.2 1706.0,614.1 1707.5,617.3 1709.0,617.3 1710.5,617.2 1712.0,617.2 1713.5,612.8 1715.0,612.0 1716.5,612.7 1718.0,611.3 1719.5,613.8 1721.0,617.4 1722.5,616.9 1724.0,618.4 1725.5,616.1 1727.0,613.9 1728.5,612.7 1730.0,612.5 1731.5,612.2 1733.0,614.2 1734.5,616.9 1736.0,617.7 1737.5,617.1 1739.0,616.9 1740.5,613.7 1742.0,611.8 1743.5,612.0 1745.0,612.3 1746.5,613.6 1748.0,617.6 1749.5,617.6 1751.0,616.9 1752.5,617.0 1754.0,613.1 1755.5,612.0 1757.0,612.2 1758.5,612.0 1760.0,614.4 1761.5,616.9 1763.0,617.8 1764.5,617.4 1766.0,617.3 1767.5,613.2 1769.0,612.0 1770.5,611.7 1772.0,612.4 1773.5,614.4 1775.0,617.9 1776.5,617.9 1778.0,617.5 1779.5,616.9 1781.0,613.5 1782.5,612.2 1784.0,612.6 1785.5,612.6 1787.0,613.7 1788.5,616.9 1790.0,617.9 1791.5,617.6 1793.0,616.9 1794.5,613.8 1796.0,612.1 1797.5,612.0 1799.0,612.1 1800.5,613.4 1802.0,617.5 1803.5,617.0 1805.0,617.2 1806.5,616.7 1808.0,613.7 1809.5,612.2 1811.0,612.1 1812.5,611.7 1814.0,614.0 1815.5,616.7 1817.0,617.6 1818.5,617.6 1820.0,617.0 1821.5,614.1 1823.0,612.4 1824.5,612.3 1826.0,612.3 1827.5,614.0 1829.0,617.5 1830.5,617.8 1832.0,617.0 1833.5,617.4 1835.0,613.6 1836.5,612.5 1838.0,612.3 1839.5,611.8 1841.0,613.6 1842.5,617.8 1844.0,617.5 1845.5,616.9 1847.0,617.1 1848.5,613.3 1850.0,611.6 1851.5,611.3 1853.0,611.7 1854.5,614.1 1856.0,617.2 1857.5,617.4 1859.0,617.5 1860.5,617.2 1862.0,612.7 1863.5,612.1 1865.0,611.8 1866.5,611.8 1868.0,613.8 1869.5,617.1 1871.0,617.4 1872.5,616.9 1874.0,616.8 1875.5,614.1 1877.0,611.8 1878.5,611.5 1880.0,612.3 1881.5,614.2 1883.0,617.3 1884.5,617.1 1886.0,617.8 1887.5,616.7 1889.0,613.0 1890.5,612.0 1892.0,612.1 1893.5,612.5 1895.0,614.3 1896.5,617.2 1898.0,617.8 1899.5,617.5 1901.0,617.3 1902.5,612.9 1904.0,611.6 1905.5,612.4 1907.0,611.8 1908.5,613.9 1910.0,617.1 1911.5,617.3 1913.0,617.3 1914.5,617.5 1916.0,612.5 1917.5,612.5 1919.0,612.9 1920.5,612.2 1922.0,614.0 1923.5,617.4 1925.0,618.1 1926.5,617.0 1928.0,617.0 1929.5,613.3 1931.0,612.4 1932.5,612.2 1934.0,612.5 1935.5,613.9 1937.0,617.2 1938.5,617.2 1940.0,617.2 1941.5,616.9 1943.0,613.3 1944.5,611.8 1946.0,612.7 1947.5,612.2 1949.0,613.6 1950.5,617.6 1952.0,617.2 1953.5,617.6 1955.0,617.0 1956.5,613.5 1958.0,612.3 1959.5,611.9 1961.0,612.3 1962.5,614.7 1964.0,616.4 1965.5,617.5 1967.0,617.6 1968.5,616.6 1970.0,612.9 1971.5,613.0 1973.0,612.0 1974.5,613.0 1976.0,614.2 1977.5,617.2 1979.0,617.6 1980.5,617.7 1982.0,617.4 1983.5,613.5 1985.0,612.2 1986.5,612.2 1988.0,612.7 1989.5,614.3 1991.0,616.8 1992.5,617.2 1994.0,617.6 1995.5,616.8 1997.0,613.3 1998.5,611.9 2000.0,612.0 2001.5,612.4 2003.0,614.4 2004.5,617.2 2006.0,618.2 2007.5,617.4 2009.0,618.1 2010.5,613.7 2012.0,612.4 2013.5,612.0 2015.0,611.2 2016.5,614.0 2018.0,617.2 2019.5,618.1 2021.0,617.0 2022.5,617.6 2024.0,613.3 2025.5,612.4 2027.0,611.2 2028.5,612.3 2030.0,613.9 2031.5,617.4 2033.0,617.5 2034.5,617.0 2036.0,617.3 2037.5,613.6 2039.0,612.4 2040.5,612.5 2042.0,612.6 2043.5,614.0 2045.0,616.7 2046.5,617.0 2048.0,617.9 2049.5,617.2 2051.0,613.4 2052.5,612.0 2054.0,612.1 2055.5,612.2 2057.0,613.9 2058.5,616.9 2060.0,618.2 2061.5,617.5 2063.0,616.8 2064.5,612.9 2066.0,611.9 2067.5,612.4 2069.0,612.5 2070.5,614.0 2072.0,617.2 2073.5,617.3 2075.0,617.1 2076.5,617.4 2078.0,613.5 2079.5,613.1 2081.0,611.9 2082.5,612.2 2084.0,614.3 2085.5,617.1 2087.0,617.0 2088.5,617.1 2090.0,617.0 2091.5,613.5 2093.0,612.2 2094.5,612.5 2096.0,612.6 2097.5,614.2 2099.0,617.2 2100.5,617.4 2102.0,617.6 2103.5,617.3 2105.0,613.4 2106.5,612.4 2108.0,612.0 2109.5,611.7 2111.0,613.7 2112.5,617.4 2114.0,617.6 2115.5,618.0 2117.0,617.0 2118.5,613.7 2120.0,612.7 2121.5,612.5 2123.0,612.0 2124.5,614.0 2126.0,617.2 2127.5,617.1 2129.0,617.6 2130.5,617.3 2132.0,613.2 2133.5,612.9 2135.0,612.0 2136.5,612.2 2138.0,614.0 2139.5,616.9 2141.0,617.6 2142.5,617.5 2144.0,617.6 2145.5,613.6 2147.0,612.4 2148.5,612.1 2150.0,611.7 2151.5,614.0 2153.0,616.9 2154.5,617.8 2154.5,665.2 2153.0,666.0 2151.5,665.3 2150.0,665.1 2148.5,662.4 2147.0,661.4 2145.5,660.6 2144.0,661.1 2142.5,662.6 2141.0,665.0 2139.5,665.0 2138.0,665.8 2136.5,665.4 2135.0,663.0 2133.5,660.6 2132.0,661.2 2130.5,661.4 2129.0,662.4 2127.5,665.2 2126.0,664.4 2124.5,665.1 2123.0,664.8 2121.5,662.8 2120.0,661.3 2118.5,660.9 2117.0,661.5 2115.5,662.1 2114.0,664.3 2112.5,665.9 2111.0,665.8 2109.5,664.3 2108.0,663.2 2106.5,660.9 2105.0,661.1 2103.5,660.8 2102.0,662.5 2100.5,665.4 2099.0,665.1 2097.5,665.7 2096.0,665.1 2094.5,661.4 2093.0,661.0 2091.5,661.1 2090.0,660.9 2088.5,663.2 2087.0,665.0 2085.5,664.9 2084.0,665.8 2082.5,664.5 2081.0,662.7 2079.5,660.6 2078.0,661.3 2076.5,660.8 2075.0,663.2 2073.5,664.7 2072.0,665.5 2070.5,665.5 2069.0,665.3 2067.5,662.4 2066.0,661.3 2064.5,662.0 2063.0,661.8 2061.5,663.4 2060.0,665.4 2058.5,665.2 2057.0,665.1 2055.5,665.3 2054.0,662.6 2052.5,661.9 2051.0,661.4 2049.5,661.3 2048.0,663.2 2046.5,664.8 2045.0,666.0 2043.5,665.0 2042.0,664.6 2040.5,662.7 2039.0,661.2 2037.5,660.8 2036.0,660.9 2034.5,662.9 2033.0,665.3 2031.5,665.9 2030.0,665.5 2028.5,664.5 2027.0,662.5 2025.5,661.8 2024.0,660.3 2022.5,661.0 2021.0,662.3 2019.5,665.4 2018.0,665.3 2016.5,665.8 2015.0,666.0 2013.5,662.3 2012.0,661.3 2010.5,660.1 2009.0,661.1 2007.5,662.4 2006.0,665.0 2004.5,665.3 2003.0,665.4 2001.5,665.2 2000.0,663.0 1998.5,662.0 1997.0,661.5 1995.5,661.4 1994.0,662.1 1992.5,665.0 1991.0,666.1 1989.5,665.4 1988.0,665.6 1986.5,661.7 1985.0,661.9 1983.5,661.5 1982.0,660.9 1980.5,662.8 1979.0,666.0 1977.5,665.1 1976.0,666.1 1974.5,664.6 1973.0,662.1 1971.5,661.7 1970.0,661.3 1968.5,661.0 1967.0,662.2 1965.5,665.0 1964.0,665.5 1962.5,665.4 1961.0,665.3 1959.5,661.2 1958.0,661.4 1956.5,661.3 1955.0,661.6 1953.5,663.2 1952.0,665.5 1950.5,665.2 1949.0,665.7 1947.5,664.7 1946.0,662.5 1944.5,661.2 1943.0,661.4 1941.5,660.7 1940.0,662.9 1938.5,665.0 1937.0,665.4 1935.5,665.9 1934.0,664.5 1932.5,661.8 1931.0,661.6 1929.5,661.4 1928.0,662.0 1926.5,662.4 1925.0,665.2 1923.5,665.3 1922.0,665.8 1920.5,664.8 1919.0,661.6 1917.5,661.0 1916.0,660.1 1914.5,661.6 1913.0,662.4 1911.5,664.9 1910.0,665.1 1908.5,665.5 1907.0,665.0 1905.5,661.7 1904.0,661.2 1902.5,660.8 1901.0,661.0 1899.5,662.2 1898.0,665.0 1896.5,665.4 1895.0,665.7 1893.5,664.4 1892.0,662.4 1890.5,661.5 1889.0,661.2 1887.5,661.4 1886.0,662.6 1884.5,664.9 1883.0,665.5 1881.5,666.7 1880.0,664.8 1878.5,662.3 1877.0,661.4 1875.5,661.0 1874.0,661.8 1872.5,662.8 1871.0,664.7 1869.5,665.4 1868.0,666.4 1866.5,664.9 1865.0,661.5 1863.5,661.6 1862.0,660.7 1860.5,661.1 1859.0,662.5 1857.5,665.2 1856.0,665.7 1854.5,665.7 1853.0,665.2 1851.5,662.4 1850.0,661.1 1848.5,661.1 1847.0,661.5 1845.5,663.1 1844.0,665.3 1842.5,666.1 1841.0,665.3 1839.5,664.4 1838.0,662.2 1836.5,661.1 1835.0,661.7 1833.5,661.3 1832.0,663.3 1830.5,665.0 1829.0,665.0 1827.5,665.1 1826.0,665.0 1824.5,662.1 1823.0,660.8 1821.5,661.1 1820.0,661.2 1818.5,663.1 1817.0,664.9 1815.5,665.3 1814.0,665.4 1812.5,665.0 1811.0,662.2 1809.5,660.3 1808.0,660.7 1806.5,661.3 1805.0,663.0 1803.5,665.2 1802.0,665.2 1800.5,665.5 1799.0,665.0 1797.5,661.8 1796.0,660.8 1794.5,661.4 1793.0,661.5 1791.5,663.2 1790.0,664.5 1788.5,665.1 1787.0,664.9 1785.5,665.4 1784.0,662.8 1782.5,661.3 1781.0,660.7 1779.5,661.4 1778.0,662.8 1776.5,664.7 1775.0,665.4 1773.5,665.7 1772.0,665.0 1770.5,663.1 1769.0,661.1 1767.5,660.5 1766.0,661.5 1764.5,662.4 1763.0,665.0 1761.5,665.2 1760.0,665.7 1758.5,665.1 1757.0,661.4 1755.5,661.0 1754.0,661.0 1752.5,660.3 1751.0,662.6 1749.5,665.0 1748.0,666.2 1746.5,665.8 1745.0,664.8 1743.5,662.3 1742.0,661.2 1740.5,660.7 1739.0,661.4 1737.5,663.0 1736.0,665.0 1734.5,665.6 1733.0,665.2 1731.5,665.1 1730.0,662.7 1728.5,661.2 1727.0,661.3 1725.5,660.5 1724.0,662.4 1722.5,664.3 1721.0,665.3 1719.5,665.2 1718.0,665.1 1716.5,662.5 1715.0,661.0 1713.5,661.5 1712.0,660.7 1710.5,663.1 1709.0,665.4 1707.5,665.6 1706.0,664.8 1704.5,664.4 1703.0,662.3 1701.5,661.4 1700.0,661.4 1698.5,661.1 1697.0,662.8 1695.5,665.7 1694.0,666.2 1692.5,665.7 1691.0,665.4 1689.5,662.5 1688.0,661.4 1686.5,661.0 1685.0,661.4 1683.5,663.3 1682.0,665.1 1680.5,665.4 1679.0,665.2 1677.5,665.1 1676.0,662.1 1674.5,661.1 1673.0,660.9 1671.5,661.2 1670.0,662.7 1668.5,665.1 1667.0,665.0 1665.5,665.3 1664.0,665.7 1662.5,661.9 1661.0,660.3 1659.5,661.7 1658.0,661.8 1656.5,662.6 1655.0,665.0 1653.5,665.5 1652.0,665.9 1650.5,664.9 1649.0,662.9 1647.5,660.3 1646.0,660.9 1644.5,661.8 1643.0,663.2 1641.5,664.5 1640.0,665.1 1638.5,666.1 1637.0,665.1 1635.5,662.1 1634.0,660.7 1632.5,661.4 1631.0,661.4 1629.5,661.8 1628.0,665.9 1626.5,665.3 1625.0,665.4 1623.5,664.6 1622.0,661.9 1620.5,661.8 1619.0,660.8 1617.5,661.0 1616.0,662.9 1614.5,665.3 1613.0,666.3 1611.5,665.6 1610.0,664.8 1608.5,662.3 1607.0,661.0 1605.5,661.5 1604.0,661.2 1602.5,663.0 1601.0,665.0 1599.5,664.8 1598.0,665.3 1596.5,665.0 1595.0,661.8 1593.5,661.8 1592.0,660.4 1590.5,660.8 1589.0,662.0 1587.5,665.6 1586.0,664.9 1584.5,665.6 1583.0,664.1 1581.5,662.7 1580.0,661.2 1578.5,661.2 1577.0,661.1 1575.5,663.0 1574.0,664.8 1572.5,665.9 1571.0,665.5 1569.5,665.4 1568.0,662.4 1566.5,661.4 1565.0,660.8 1563.5,661.5 1562.0,662.4 1560.5,665.2 1559.0,665.4 1557.5,665.5 1556.0,665.1 1554.5,662.8 1553.0,661.1 1551.5,661.2 1550.0,661.1 1548.5,663.6 1547.0,665.8 1545.5,665.2 1544.0,665.5 1542.5,664.8 1541.0,662.4 1539.5,661.1 1538.0,660.6 1536.5,661.4 1535.0,662.9 1533.5,665.5 1532.0,666.0 1530.5,665.7 1529.0,665.0 1527.5,662.5 1526.0,660.7 1524.5,661.1 1523.0,661.5 1521.5,662.8 1520.0,664.8 1518.5,666.5 1517.0,665.6 1515.5,664.9 1514.0,661.9 1512.5,661.5 1511.0,661.0 1509.5,660.8 1508.0,663.7 1506.5,664.9 1505.0,665.5 1503.5,665.9 1502.0,664.9 1500.5,662.3 1499.0,661.9 1497.5,660.4 1496.0,661.4 1494.5,662.9 1493.0,664.7 1491.5,665.2 1490.0,665.6 1488.5,664.5 1487.0,662.0 1485.5,660.8 1484.0,661.1 1482.5,661.3 1481.0,662.8 1479.5,665.5 1478.0,665.4 1476.5,665.5 1475.0,664.9 1473.5,662.3 1472.0,661.0 1470.5,661.5 1469.0,665.1 1467.5,665.5 1466.0,666.2 1464.5,666.4 1463.0,664.9 1461.5,665.5 1460.0,666.3 1458.5,666.3 1457.0,666.1 1455.5,666.4 1454.0,665.5 1452.5,665.5 1451.0,665.6 1449.5,665.4 1448.0,664.5 1446.5,663.8 1445.0,663.4 1443.5,664.2 1442.0,664.5 1440.5,665.1 1439.0,664.5 1437.5,663.8 1436.0,663.8 1434.5,662.9 1433.0,661.5 1431.5,661.4 1430.0,663.2 1428.5,662.9 1427.0,662.6 1425.5,662.3 1424.0,663.3 1422.5,661.9 1421.0,663.5 1419.5,663.4 1418.0,664.4 1416.5,663.9 1415.0,664.6 1413.5,664.5 1412.0,663.3 1410.5,664.8 1409.0,664.2 1407.5,664.9 1406.0,666.8 1404.5,664.7 1403.0,666.9 1401.5,666.7 1400.0,666.1 1398.5,665.3 1397.0,666.2 1395.5,664.9 1394.0,666.9 1392.5,665.8 1391.0,667.0 1389.5,666.5 1388.0,665.8 1386.5,663.8 1385.0,664.1 1383.5,664.5 1382.0,665.5 1380.5,663.8 1379.0,662.8 1377.5,666.1 1376.0,663.3 1374.5,662.6 1373.0,663.8 1371.5,663.8 1370.0,663.4 1368.5,663.4 1367.0,663.9 1365.5,662.3 1364.0,663.6 1362.5,662.3 1361.0,661.8 1359.5,663.3 1358.0,664.6 1356.5,665.3 1355.0,663.4 1353.5,664.0 1352.0,664.3 1350.5,665.8 1349.0,665.0 1347.5,664.5 1346.0,664.1 1344.5,666.3 1343.0,664.4 1341.5,663.7 1340.0,664.9 1338.5,666.7 1337.0,666.7 1335.5,663.6 1334.0,665.7 1332.5,666.7 1331.0,667.3 1329.5,665.8 1328.0,665.9 1326.5,665.1 1325.0,665.7 1323.5,665.3 1322.0,665.8 1320.5,664.7 1319.0,663.6 1317.5,664.9 1316.0,664.0 1314.5,663.4 1313.0,665.8 1311.5,663.5 1310.0,661.2 1308.5,664.2 1307.0,662.4 1305.5,663.3 1304.0,663.1 1302.5,665.1 1301.0,661.3 1299.5,662.3 1298.0,661.9 1296.5,664.3 1295.0,662.1 1293.5,664.9 1292.0,664.1 1290.5,663.3 1289.0,664.1 1287.5,664.1 1286.0,666.1 1284.5,666.5 1283.0,664.5 1281.5,666.3 1280.0,664.8 1278.5,666.6 1277.0,665.4 1275.5,664.8 1274.0,666.4 1272.5,664.2 1271.0,665.0 1269.5,667.2 1268.0,665.4 1266.5,663.8 1265.0,664.6 1263.5,662.6 1262.0,664.7 1260.5,665.6 1259.0,663.9 1257.5,663.3 1256.0,665.3 1254.5,664.0 1253.0,666.0 1251.5,665.0 1250.0,664.7 1248.5,664.7 1247.0,665.0 1245.5,660.4 1244.0,664.0 1242.5,664.4 1241.0,666.9 1239.5,664.3 1238.0,666.2 1236.5,668.7 1235.0,665.9 1233.5,666.1 1232.0,665.1 1230.5,664.2 1229.0,665.9 1227.5,663.5 1226.0,665.6 1224.5,665.7 1223.0,663.8 1221.5,663.5 1220.0,663.3 1218.5,664.4 1217.0,663.9 1215.5,663.9 1214.0,665.7 1212.5,663.5 1211.0,665.0 1209.5,665.1 1208.0,662.9 1206.5,663.6 1205.0,664.4 1203.5,662.5 1202.0,663.4 1200.5,661.5 1199.0,663.0 1197.5,663.4 1196.0,664.0 1194.5,661.6 1193.0,663.0 1191.5,661.4 1190.0,663.5 1188.5,663.5 1187.0,662.4 1185.5,664.5 1184.0,663.4 1182.5,662.8 1181.0,663.0 1179.5,662.2 1178.0,662.1 1176.5,664.5 1175.0,663.4 1173.5,663.8 1172.0,666.7 1170.5,662.2 1169.0,663.7 1167.5,665.1 1166.0,663.4 1164.5,664.6 1163.0,665.2 1161.5,663.5 1160.0,664.0 1158.5,666.2 1157.0,662.5 1155.5,664.5 1154.0,660.8 1152.5,665.1 1151.0,663.8 1149.5,661.1 1148.0,663.6 1146.5,664.3 1145.0,665.4 1143.5,663.2 1142.0,665.0 1140.5,668.6 1139.0,665.6 1137.5,666.4 1136.0,663.4 1134.5,665.5 1133.0,667.2 1131.5,663.4 1130.0,664.2 1128.5,663.0 1127.0,664.5 1125.5,665.9 1124.0,661.8 1122.5,664.2 1121.0,665.6 1119.5,664.1 1118.0,664.9 1116.5,664.1 1115.0,664.6 1113.5,664.5 1112.0,663.8 1110.5,663.1 1109.0,663.1 1107.5,663.3 1106.0,664.1 1104.5,662.1 1103.0,663.6 1101.5,662.8 1100.0,662.9 1098.5,662.9 1097.0,664.2 1095.5,662.5 1094.0,663.4 1092.5,662.9 1091.0,662.8 1089.5,661.6 1088.0,664.5 1086.5,664.0 1085.0,664.9 1083.5,663.0 1082.0,662.6 1080.5,664.2 1079.0,663.3 1077.5,663.2 1076.0,663.3 1074.5,663.0 1073.0,664.9 1071.5,664.1 1070.0,664.0 1068.5,664.5 1067.0,661.7 1065.5,665.2 1064.0,664.9 1062.5,662.9 1061.0,663.8 1059.5,663.6 1058.0,660.9 1056.5,663.1 1055.0,663.5 1053.5,661.5 1052.0,663.7 1050.5,662.7 1049.0,665.1 1047.5,666.8 1046.0,667.3 1044.5,667.2 1043.0,667.1 1041.5,666.2 1040.0,667.2 1038.5,667.4 1037.0,666.2 1035.5,666.1 1034.0,664.7 1032.5,665.1 1031.0,666.4 1029.5,664.8 1028.0,663.5 1026.5,661.9 1025.0,663.3 1023.5,662.5 1022.0,663.3 1020.5,662.7 1019.0,661.9 1017.5,662.4 1016.0,664.4 1014.5,661.9 1013.0,662.9 1011.5,659.7 1010.0,663.3 1008.5,663.4 1007.0,662.8 1005.5,666.3 1004.0,664.1 1002.5,662.7 1001.0,663.5 999.5,664.4 998.0,664.3 996.5,662.9 995.0,663.7 993.5,664.3 992.0,665.0 990.5,664.2 989.0,663.3 987.5,664.5 986.0,663.5 984.5,664.3 983.0,663.4 981.5,664.4 980.0,661.9 978.5,662.2 977.0,662.4 975.5,661.8 974.0,660.8 972.5,663.2 971.0,663.5 969.5,661.4 968.0,663.8 966.5,661.0 965.0,662.5 963.5,663.5 962.0,663.0 960.5,664.6 959.0,663.5 957.5,664.5 956.0,664.9 954.5,666.3 953.0,667.7 951.5,666.7 950.0,668.1 948.5,667.2 947.0,667.1 945.5,666.2 944.0,666.0 942.5,663.7 941.0,665.5 939.5,665.7 938.0,665.8 936.5,661.9 935.0,662.8 933.5,661.9 932.0,664.7 930.5,663.7 929.0,663.0 927.5,663.4 926.0,663.4 924.5,663.9 923.0,662.5 921.5,662.1 920.0,658.8 918.5,662.0 917.0,662.5 915.5,664.4 914.0,667.0 912.5,665.1 911.0,665.0 909.5,662.3 908.0,663.7 906.5,662.5 905.0,662.9 903.5,664.0 902.0,664.8 900.5,664.7 899.0,662.6 897.5,662.3 896.0,663.7 894.5,664.4 893.0,664.1 891.5,666.2 890.0,662.8 888.5,663.7 887.0,664.3 885.5,664.6 884.0,662.4 882.5,662.4 881.0,664.7 879.5,661.8 878.0,662.0 876.5,663.1 875.0,664.0 873.5,663.7 872.0,663.1 870.5,663.5 869.0,663.3 867.5,665.0 866.0,664.0 864.5,665.8 863.0,663.6 861.5,664.5 860.0,665.1 858.5,666.1 857.0,666.6 855.5,666.7 854.0,667.6 852.5,668.4 851.0,666.8 849.5,663.5 848.0,665.2 846.5,659.9 845.0,663.0 843.5,663.3 842.0,663.1 840.5,662.9 839.0,661.6 837.5,662.0 836.0,661.4 834.5,662.2 833.0,663.8 831.5,661.6 830.0,663.6 828.5,662.1 827.0,664.1 825.5,664.6 824.0,661.8 822.5,663.6 821.0,664.4 819.5,663.0 818.0,663.1 816.5,663.9 815.0,663.2 813.5,663.2 812.0,661.6 810.5,665.1 809.0,664.2 807.5,664.2 806.0,662.7 804.5,662.2 803.0,662.6 801.5,662.8 800.0,662.1 798.5,662.3 797.0,663.3 795.5,661.7 794.0,662.4 792.5,660.6 791.0,661.5 789.5,662.0 788.0,660.7 786.5,660.7 785.0,662.4 783.5,662.1 782.0,661.8 780.5,664.0 779.0,663.5 777.5,665.3 776.0,664.9 774.5,662.2 773.0,661.6 771.5,662.5 770.0,663.5 768.5,663.9 767.0,662.9 765.5,663.4 764.0,665.2 762.5,662.4 761.0,665.5 759.5,664.4 758.0,664.2 756.5,663.4 755.0,664.9 753.5,664.9 752.0,662.0 750.5,664.3 749.0,662.6 747.5,662.3 746.0,663.6 744.5,665.8 743.0,664.9 741.5,662.6 740.0,662.6 738.5,662.6 737.0,666.5 735.5,663.6 734.0,663.9 732.5,665.1 731.0,665.0 729.5,663.1 728.0,665.3 726.5,664.7 725.0,666.9 723.5,665.0 722.0,664.8 720.5,665.6 719.0,664.0 717.5,666.9 716.0,666.7 714.5,668.2 713.0,667.1 711.5,662.8 710.0,666.0 708.5,665.6 707.0,665.2 705.5,666.1 704.0,665.2 702.5,664.4 701.0,665.6 699.5,665.8 698.0,663.2 696.5,668.0 695.0,665.0 693.5,665.8 692.0,666.0 690.5,665.2 689.0,667.1 687.5,668.1 686.0,666.0 684.5,670.5 683.0,668.1 681.5,665.9 680.0,666.0 678.5,666.4 677.0,666.5 675.5,668.8 674.0,666.7 672.5,667.2 671.0,666.7 669.5,669.1 668.0,667.4 666.5,666.5 665.0,667.2 663.5,666.2 662.0,667.9 660.5,665.0 659.0,665.4 657.5,665.2 656.0,666.8 654.5,668.1 653.0,669.8 651.5,667.9 650.0,666.9 648.5,667.9 647.0,666.7 645.5,668.5 644.0,668.9 642.5,668.5 641.0,668.0 639.5,668.6 638.0,668.8 636.5,669.5 635.0,670.2 633.5,671.6 632.0,668.1 630.5,670.5 629.0,669.0 627.5,669.3 626.0,667.4 624.5,668.4 623.0,669.1 621.5,669.1 620.0,670.9 618.5,667.0 617.0,671.4 615.5,670.0 614.0,670.3 612.5,670.0 611.0,671.3 609.5,670.2 608.0,670.5 606.5,670.8 605.0,670.8 603.5,669.0 602.0,672.1 600.5,670.9 599.0,670.7 597.5,670.6 596.0,670.5 594.5,672.7 593.0,673.3 591.5,672.4 590.0,671.0 588.5,674.0 587.0,671.0 585.5,673.7 584.0,672.9 582.5,672.4 581.0,671.6 579.5,671.9 578.0,671.1 576.5,674.7 575.0,673.1 573.5,670.2 572.0,672.1 570.5,668.8 569.0,673.2 567.5,674.0 566.0,672.4 564.5,673.4 563.0,674.5 561.5,672.1 560.0,674.6 558.5,674.0 557.0,676.3 555.5,675.8 554.0,676.8 552.5,676.8 551.0,676.3 549.5,676.0 548.0,677.1 546.5,678.6 545.0,679.0 543.5,676.2 542.0,679.4 540.5,677.0 539.0,678.2 537.5,678.3 536.0,678.1 534.5,679.3 533.0,680.1 531.5,679.0 530.0,681.2 528.5,680.3 527.0,679.8 525.5,679.8 524.0,682.8 522.5,680.7 521.0,681.2 519.5,679.1 518.0,681.4 516.5,685.3 515.0,681.8 513.5,684.5 512.0,683.7 510.5,687.3 509.0,685.8 507.5,687.2 506.0,686.0 504.5,685.7 503.0,689.3 501.5,688.9 500.0,686.6 498.5,687.9 497.0,689.4 495.5,690.9 494.0,687.9 492.5,692.1 491.0,688.5 489.5,689.3 488.0,690.1 486.5,691.3 485.0,691.8 483.5,690.0 482.0,692.6 480.5,691.6 479.0,692.7 477.5,693.7 476.0,694.7 474.5,694.6 473.0,697.7 471.5,697.3 470.0,696.9 468.5,696.4 467.0,698.4 465.5,698.3 464.0,702.3 462.5,700.7 461.0,703.1 459.5,702.6 458.0,703.3 456.5,704.5 455.0,705.5 453.5,707.2 452.0,705.5 450.5,706.1 449.0,707.9 447.5,707.3 446.0,707.7 444.5,709.7 443.0,709.4 441.5,711.2 440.0,714.3 438.5,712.0 437.0,713.7 435.5,715.4 434.0,712.5 432.5,715.6 431.0,717.8 429.5,716.8 428.0,718.1 426.5,722.2 425.0,722.8 423.5,721.0 422.0,724.4 420.5,725.0 419.0,725.7 417.5,726.0 416.0,728.9 414.5,728.5 410.7,729.0 410.7,807.5 391.6,807.5 391.6,723.0 388.7,723.0 388.7,560.0 389.7,560.0" fill="#0000ff"/>
<rect x="392.6" y="632.5" width="1759.0" height="8.6" fill="#ff0000"/>
<rect x="567.4" y="216" width="880.3000000000001" height="260" fill="#fff"/>
<g stroke="#bbbbbb" fill="none">
<line x1="565.9" y1="215.6" x2="1449.3" y2="215.6" stroke-width="5.2"/>
<line x1="565.9" y1="476.2" x2="1449.3" y2="476.2" stroke-width="4.2"/>
<line x1="566.9" y1="216" x2="566.9" y2="476" stroke-width="1.6" stroke="#c8c8c8"/>
<line x1="1450" y1="216" x2="1450" y2="476" stroke-width="1.4" stroke="#dcdcdc"/>
</g>
<polyline points="569.9,241.8 575.2,474.5 579.7,275.7 584.7,474.5 588.7,266.4 594.2,426.6 597.3,229.6 602.4,436.9 606.1,306.6 609.5,461.8 612.5,306.0 615.4,474.5 620.3,223.2 623.9,422.1 629.0,229.3 634.4,474.5 638.2,290.9 643.1,474.5 648.7,230.6 652.2,417.5 657.4,250.1 660.1,458.3 663.0,288.4 668.7,472.9 671.7,267.0 674.5,462.9 679.0,231.7 683.2,465.0 688.3,232.3 692.3,474.5 697.6,258.4 701.8,474.5 706.9,245.6 712.7,462.7 718.0,240.1 721.0,474.1 725.7,290.1 731.3,474.5 735.8,223.2 740.8,451.6 746.4,223.2 752.1,474.5 755.4,272.9 758.9,474.5 763.8,244.6 768.4,413.2 772.0,223.5 776.4,423.1 779.9,239.7 783.3,469.4 788.0,294.7 791.6,474.5 794.3,228.3 797.7,422.5 802.1,223.2 806.1,431.7 809.4,284.1 813.6,466.0 816.9,279.5 821.6,474.5 824.8,230.8 829.2,450.7 833.8,223.2 838.1,474.5 840.9,262.9 844.9,474.5 849.6,274.1 853.5,450.8 857.8,223.2 862.1,448.9 865.8,259.8 870.1,474.5 873.5,248.3 876.4,453.5 881.2,246.9 885.3,417.2 888.7,223.2 894.2,453.2 897.2,274.9 902.0,474.5 905.2,284.5 908.5,474.5 912.1,223.2 915.4,438.4 919.6,240.2 922.3,469.3 926.4,287.0 930.5,474.5 934.1,284.3 938.6,474.5 943.7,226.9 946.4,421.6 952.2,233.7 957.2,474.5 961.2,274.3 966.0,461.7 969.1,273.7 974.7,436.9 977.4,260.5 981.0,430.3 986.4,268.8 991.4,474.5 994.2,267.2 997.6,474.5 1001.0,223.2 1005.9,456.1 1009.0,241.5 1013.9,474.5 1019.0,299.2 1022.9,474.5 1026.0,253.2 1029.2,449.9 1034.1,223.2 1039.8,443.8 1042.8,238.6 1047.3,474.5 1049.9,259.9 1055.7,460.3 1060.9,223.2 1063.5,411.3 1066.6,248.2 1072.1,474.5 1077.3,253.5 1082.7,474.5 1087.0,247.8 1092.6,460.8 1097.7,223.2 1102.1,472.8 1107.4,251.6 1112.7,474.5 1117.2,264.5 1122.0,464.8 1126.8,223.2 1130.1,428.6 1135.7,288.2 1140.9,474.5 1146.2,223.2 1151.2,452.3 1155.9,223.2 1158.6,421.4 1163.6,268.6 1169.4,474.5 1172.7,291.1 1177.0,400.1 1182.0,255.0 1186.2,457.5 1192.0,258.7 1195.0,474.5 1200.3,259.2 1205.9,415.1 1210.8,224.1 1213.7,453.0 1219.0,245.2 1222.6,452.0 1225.8,275.1 1231.5,474.5 1234.9,223.2 1237.6,436.8 1242.5,230.1 1245.2,431.1 1248.4,258.3 1252.8,474.5 1255.7,257.3 1260.6,474.5 1263.3,235.1 1266.1,427.5 1269.7,223.2 1274.0,406.9 1279.5,251.6 1283.4,474.5 1287.9,261.4 1293.2,463.8 1295.8,223.2 1300.5,463.7 1303.5,223.2 1308.8,474.5 1313.3,295.6 1316.4,474.5 1319.8,257.7 1324.8,437.3 1328.1,225.2 1332.1,454.0 1337.8,282.0 1342.6,474.5 1347.1,268.2 1352.6,426.5 1355.9,237.7 1359.6,449.4 1362.7,223.2 1365.7,474.5 1371.3,256.5 1377.0,474.5 1381.6,239.8 1384.7,449.3 1389.2,233.3 1395.0,470.9 1399.3,263.4 1404.4,474.5 1409.4,250.2 1413.8,440.8 1419.2,226.2 1423.9,428.0 1429.6,261.3 1433.7,474.5 1436.3,274.5 1441.4,459.9 1445.4,261.3" fill="none" stroke="#00ff00" stroke-width="7.0" stroke-linejoin="round" stroke-linecap="round"/>
<polyline points="569.9,289.2 574.6,392.9 577.2,291.5 581.0,421.9 583.8,297.7 587.7,423.9 592.4,294.6 595.8,402.2 599.8,293.6 603.0,402.5 605.5,288.6 608.8,418.7 613.1,299.6 615.7,423.5 619.9,298.4 623.3,399.4 625.8,282.1 630.0,400.1 633.7,283.4 636.4,413.1 639.2,305.5 643.2,413.5 647.1,311.0 649.3,410.9 652.7,282.4 656.7,403.3 659.7,282.0 662.2,391.0 666.3,308.8 670.3,421.2 672.8,301.9 675.8,423.9 680.2,295.2 684.0,396.5 686.4,282.1 689.5,402.1 693.2,295.4 696.3,423.9 701.0,306.2 704.5,413.6 708.2,294.8 711.7,402.4 716.1,282.7 718.6,400.4 722.5,294.0 727.1,423.9 730.7,306.8 733.7,422.4 737.3,302.1 739.6,391.7 744.1,291.0 747.6,398.4 751.6,290.7 754.5,423.9 757.0,305.3 760.7,418.1 764.9,300.3 767.2,407.3 771.1,282.0 774.9,398.2 778.9,282.0 783.5,422.3 787.0,313.1 791.6,419.4 795.5,296.8 800.2,388.5 804.5,342.6 808.8,401.3 812.4,305.2 815.7,418.1 820.1,301.5 824.3,423.9 826.6,288.6 829.6,392.8 832.3,283.2 834.5,403.9 836.9,282.0 839.9,397.4 844.3,301.6 847.2,419.1 849.5,336.3 851.9,417.1 856.7,291.4 860.9,400.6 864.4,283.6 868.3,405.9 871.8,302.3 874.9,422.6 878.9,311.0 882.3,418.7 886.7,285.6 890.6,397.4 893.3,291.4 897.1,399.5 899.5,294.3 903.8,418.8 908.1,300.1 910.5,419.9 914.2,292.4 918.5,396.3 923.1,282.0 927.0,401.4 931.0,315.9 933.9,423.2 936.5,308.0 939.7,416.8 944.3,282.0 949.1,393.8 951.6,293.6 955.3,412.4 958.7,304.3 962.1,418.2 966.3,307.9 969.2,420.2 974.0,282.2 978.6,404.3 981.1,285.7 985.0,410.7 987.4,305.0 991.8,418.4 996.4,305.4 998.7,423.9 1002.2,288.6 1004.8,398.7 1007.7,292.4 1010.1,406.4 1014.5,282.0 1017.2,414.3 1021.5,305.0 1026.1,421.1 1030.1,308.7 1033.7,400.0 1036.2,282.1 1039.5,399.0 1042.8,282.0 1045.8,408.6 1049.2,306.6 1053.2,415.6 1056.3,309.0 1060.1,410.3 1064.2,287.6 1067.8,404.4 1072.1,341.9 1075.2,414.1 1079.3,311.1 1082.5,416.3 1085.0,314.6 1089.2,413.0 1093.3,342.5 1096.8,406.2 1101.2,282.0 1106.0,418.8 1109.2,309.4 1112.6,422.0 1117.2,299.8 1120.6,398.6 1123.1,287.0 1127.0,397.8 1129.3,282.0 1133.7,406.1 1138.1,311.8 1142.5,420.3 1146.1,306.7 1149.9,407.0 1152.6,292.5 1155.6,408.1 1158.6,282.0 1162.4,397.4 1166.9,306.0 1171.4,414.9 1174.7,314.1 1179.5,405.3 1183.6,337.6 1187.1,398.1 1191.9,289.4 1195.5,408.0 1199.8,342.6 1203.8,423.6 1208.2,342.3 1212.1,413.5 1215.6,283.0 1220.1,397.1 1224.5,303.5 1228.3,416.1 1232.8,307.5 1236.8,407.2 1239.8,287.4 1244.6,402.5 1247.8,282.0 1251.0,402.8 1253.2,293.3 1256.5,401.8 1260.1,306.6 1263.2,423.9 1267.3,301.3 1270.1,415.4 1274.6,287.3 1278.8,394.1 1283.6,298.3 1287.9,410.6 1290.3,314.1 1293.7,418.4 1296.1,340.4 1299.7,414.8 1302.2,288.8 1304.9,397.9 1308.2,282.0 1310.4,403.8 1313.5,299.4 1316.3,415.4 1319.8,305.8 1324.4,420.0 1328.5,290.1 1333.0,405.6 1335.3,282.0 1339.0,393.5 1341.2,292.9 1345.4,409.6 1350.0,311.1 1353.2,423.9 1357.4,295.8 1360.5,417.8 1363.6,282.0 1367.6,398.5 1372.1,290.1 1376.1,413.8 1380.9,307.3 1384.6,406.3 1389.1,296.3 1391.4,407.0 1395.4,282.0 1398.2,404.2 1401.9,288.7 1406.0,410.6 1410.8,337.4 1414.3,418.4 1418.9,300.7 1423.6,397.1 1428.0,283.6 1432.1,406.4 1435.6,303.4 1439.3,421.1 1443.8,295.5 1447.9,408.2" fill="none" stroke="#0000ff" stroke-width="7.0" stroke-linejoin="round" stroke-linecap="round"/>
<rect x="568.4" y="340.3" width="880.3000000000001" height="8" fill="#ff0000"/>
<g stroke="#555" stroke-width="2.1" stroke-linecap="round">
<line x1="568.2" y1="215.5" x2="568.2" y2="227"/>
<line x1="743.5" y1="215.5" x2="743.5" y2="227"/>
<line x1="743.5" y1="477" x2="743.5" y2="466.5"/>
<line x1="1095.6" y1="215.5" x2="1095.6" y2="227"/>
<line x1="1095.6" y1="477" x2="1095.6" y2="466.5"/>
<line x1="1447.7" y1="215.5" x2="1447.7" y2="227"/>
<line x1="1447.7" y1="477" x2="1447.7" y2="466.5"/>
</g>
<g stroke="#000" stroke-width="6.5" fill="none">
<line x1="1271.7" y1="581.6" x2="1296.7" y2="581.6"/>
<line x1="1323.4" y1="581.6" x2="1348.4" y2="581.6"/>
<line x1="1375.3" y1="581.6" x2="1400" y2="581.6"/>
<line x1="1426.5" y1="581.6" x2="1452" y2="581.6"/>
<line x1="1294.7" y1="699.3" x2="1319.8" y2="699.3"/>
<line x1="1346.4" y1="699.3" x2="1371.5" y2="699.3"/>
<line x1="1398.4" y1="699.3" x2="1423.2" y2="699.3"/>
<line x1="1264" y1="606" x2="1264" y2="636.6"/>
<path d="M1264 668.6 V695 Q1264 699.3 1268 699.3"/>
<line x1="1454" y1="612.3" x2="1454" y2="641.7"/>
<path d="M1454 675 V694 Q1454 699.3 1449 699.3"/>
<line x1="1345.9" y1="584.8" x2="1345.9" y2="495"/>
</g>
<path d="M1345.9 475.9 L1358.3 511.5 L1345.9 499 L1334.5 511.5 Z" fill="#000"/>
<rect x="1507.7" y="125.5" width="643.9" height="303.5" fill="#fff" stroke="#686868" stroke-width="2.6"/>
<line x1="1506.4" y1="125.5" x2="2152.9" y2="125.5" stroke="#2a2a2a" stroke-width="2.6"/>
<rect x="1516" y="174.0" width="87.5" height="9.4" fill="#00ff00"/>
<rect x="1516" y="272.5" width="87.5" height="9.4" fill="#0000ff"/>
<rect x="1516" y="370.8" width="87.5" height="9.4" fill="#ff0000"/>
<text transform="translate(371.0,153.7) scale(0.7280,0.8380)" font-size="100" font-weight="bold" text-anchor="end" fill="#262626">15</text>
<text transform="translate(371.0,324.2) scale(0.7280,0.8380)" font-size="100" font-weight="bold" text-anchor="end" fill="#262626">10</text>
<text transform="translate(371.0,494.7) scale(0.7280,0.8380)" font-size="100" font-weight="bold" text-anchor="end" fill="#262626">5</text>
<text transform="translate(371.0,665.2) scale(0.7280,0.8380)" font-size="100" font-weight="bold" text-anchor="end" fill="#262626">0</text>
<text transform="translate(371.0,835.7) scale(0.7280,0.8380)" font-size="100" font-weight="bold" text-anchor="end" fill="#262626">-5</text>
<text transform="translate(390.2,908.9) scale(0.7550,0.8530)" font-size="100" font-weight="bold" text-anchor="middle" fill="#262626">0</text>
<text transform="translate(740.7,908.9) scale(0.7550,0.8530)" font-size="100" font-weight="bold" text-anchor="middle" fill="#262626">1</text>
<text transform="translate(1093.2,908.9) scale(0.7550,0.8530)" font-size="100" font-weight="bold" text-anchor="middle" fill="#262626">2</text>
<text transform="translate(1444.3,908.9) scale(0.7550,0.8530)" font-size="100" font-weight="bold" text-anchor="middle" fill="#262626">3</text>
<text transform="translate(1797.8,908.9) scale(0.7550,0.8530)" font-size="100" font-weight="bold" text-anchor="middle" fill="#262626">4</text>
<text transform="translate(2150.3,908.9) scale(0.7550,0.8530)" font-size="100" font-weight="bold" text-anchor="middle" fill="#262626">5</text>
<text transform="translate(394.6,120.0) scale(0.9250,1.0300)" font-size="100" font-weight="normal" text-anchor="start" fill="#262626">×</text>
<text transform="translate(446.5,105.5) scale(0.7000,0.8250)" font-size="100" font-weight="normal" text-anchor="start" fill="#262626">10</text>
<text transform="translate(518.0,63.0) scale(0.5650,0.6600)" font-size="100" font-weight="normal" text-anchor="start" fill="#262626">4</text>
<text transform="translate(573.1,211.1) scale(0.7150,0.8570)" font-size="100" font-weight="normal" text-anchor="start" fill="#262626">×</text>
<text transform="translate(613.3,199.5) scale(0.6050,0.7060)" font-size="100" font-weight="normal" text-anchor="start" fill="#262626">10</text>
<text transform="translate(676.0,163.4) scale(0.4600,0.5300)" font-size="100" font-weight="normal" text-anchor="start" fill="#262626">4</text>
<text transform="translate(514.5,281.5) scale(0.6550,0.6900)" font-size="100" font-weight="normal" text-anchor="start" fill="#262626">1</text>
<text transform="translate(517.8,367.4) scale(0.6740,0.6900)" font-size="100" font-weight="normal" text-anchor="start" fill="#262626">0</text>
<text transform="translate(495.9,453.6) scale(0.5890,0.6900)" font-size="100" font-weight="normal" text-anchor="start" fill="#262626">-1</text>
<text transform="translate(742.5,562.3) scale(0.5960,0.7050)" font-size="100" font-weight="bold" text-anchor="middle" fill="#262626">2.6</text>
<text transform="translate(1093.0,561.8) scale(0.5960,0.7100)" font-size="100" font-weight="bold" text-anchor="middle" fill="#262626">2.8</text>
<text transform="translate(1444.0,561.0) scale(0.5800,0.7000)" font-size="100" font-weight="bold" text-anchor="middle" fill="#262626">3</text>
<text transform="translate(1112.0,983.5) scale(0.9090,1.0900)" font-size="100" font-weight="bold" text-anchor="start" fill="#262626">Time (s)</text>
<text transform="translate(80.7,828.3) rotate(-90) scale(1.0920,1.0000)" font-size="100" font-weight="bold" text-anchor="start" fill="#262626">Reactive power</text>
<text transform="translate(295.0,595.0) rotate(-90) scale(1.0970,0.9500)" font-size="100" font-weight="bold" text-anchor="start" fill="#262626">(Var)</text>
<text transform="translate(1608.0,206.3) scale(0.6840,0.8000)" font-size="100" font-weight="bold" text-anchor="start" fill="#000">With variation</text>
<text transform="translate(1608.0,305.0) scale(0.6860,0.8000)" font-size="100" font-weight="bold" text-anchor="start" fill="#000">Without variation</text>
<text transform="translate(1608.6,402.8) scale(0.6945,0.7900)" font-size="100" font-weight="bold" text-anchor="start" fill="#000">Reference</text>
</g>
</svg>
</body></html>
